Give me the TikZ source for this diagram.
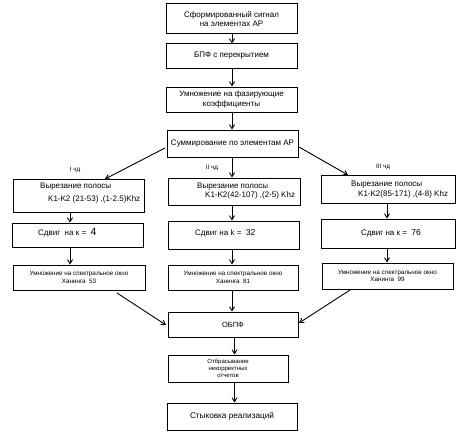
\documentclass[tikz,border=0pt]{standalone}
\usepackage{fontspec}
\setmainfont{Liberation Sans}
\usetikzlibrary{arrows.meta}
\begin{document}
\begin{tikzpicture}[x=1pt,y=-1pt,
  box/.style={draw,line width=1pt,inner sep=1pt,align=center},
  txt/.style={inner sep=0pt,align=left,anchor=west},
  arr/.style={line width=0.9pt,-{Straight Barb[length=4pt,width=5pt]}},
  fmain/.style={font=\fontsize{8}{9.5}\selectfont},
  fsmall/.style={font=\fontsize{6.3}{7.6}\selectfont}]
\useasboundingbox (0,0) rectangle (465,436);
% centre column
\node[box,fmain,minimum width=131pt,minimum height=30pt] (b1) at (231.5,19) {Сформированный сигнал\\на элементах АР};
\node[box,fmain,minimum width=131pt,minimum height=24pt] (b2) at (231.5,56) {БПФ с перекрытием};
\node[box,fmain,minimum width=131pt,minimum height=25pt] (b3) at (231.5,99.5) {Умножение на фазирующие\\коэффициенты};
\node[box,fmain,minimum width=131pt,minimum height=27pt] (b4) at (232.5,143.5) {Суммирование по элементам АР};
% left column
\node[box,minimum width=131pt,minimum height=33pt] (l1) at (78.5,195.5) {};
\node[txt,fmain,font=\fontsize{8}{13}\selectfont] (l1t) at (40,193.5) {Вырезание полосы\\\hspace*{8pt}K1-K2 (21-53) ,(1-2.5)Khz};
\node[box,minimum width=131pt,minimum height=24pt] (l2) at (77.5,235) {};
\node[txt,fmain] (l2t) at (38,233) {Сдвиг\ \ на к =\ \ {\fontsize{10.5}{12}\selectfont 4}};
\node[box,fsmall,minimum width=132pt,minimum height=25pt] (l3) at (79,277.5) {Умножение на спектральное окно\\Ханинга\ \ 53};
% middle column
\node[box,minimum width=132pt,minimum height=27pt] (m1) at (234,191.5) {};
\node[txt,fmain] (m1t) at (197,191) {Вырезание полосы\\\hspace*{8pt}K1-K2(42-107) ,(2-5) Khz};
\node[box,minimum width=131pt,minimum height=28pt] (m2) at (233.5,235) {};
\node[txt,fmain] (m2t) at (195,233) {Сдвиг на k =\ \ {\fontsize{8.6}{10}\selectfont 32}};
\node[box,fsmall,minimum width=130pt,minimum height=25pt] (m3) at (233,277.5) {Умножение на спектральное окно\\Ханинга\ \ 81};
% right column
\node[box,minimum width=134pt,minimum height=28pt] (r1) at (388,189) {};
\node[txt,fmain] (r1t) at (351,189.5) {Вырезание полосы\\\hspace*{7pt}K1-K2(85-171) ,(4-8) Khz};
\node[box,minimum width=134pt,minimum height=29pt] (r2) at (388,233.5) {};
\node[txt,fmain] (r2t) at (361,233) {Сдвиг на к =\ \ {\fontsize{8.6}{10}\selectfont 76}};
\node[box,fsmall,minimum width=131pt,minimum height=26pt] (r3) at (387.5,276) {Умножение на спектральное окно\\Ханинга\ \ 99};
% channel labels
\node[fsmall,inner sep=0pt] (c1) at (75,170) {I чд};
\node[fsmall,inner sep=0pt] (c2) at (212,168) {II чд};
\node[fsmall,inner sep=0pt] (c3) at (383,167) {III чд};
% bottom column
\node[box,font=\fontsize{7.5}{9}\selectfont,minimum width=130pt,minimum height=25pt] (o) at (233,324.5) {ОБПФ};
\node[box,font=\fontsize{6}{7.2}\selectfont,minimum width=120pt,minimum height=27pt] (d) at (228,368.5) {Отбрасывание\\некорректных\\отчетов};
\node[box,font=\fontsize{8.2}{10}\selectfont,minimum width=130pt,minimum height=27pt] (s) at (232,416.5) {Стыковка реализаций};
% x positions of vertical connectors
\coordinate (xc) at (232,0);
\coordinate (xl) at (70,0);
\coordinate (xr) at (387,0);
\coordinate (xb) at (234.5,0);
% connectors
\draw[arr] (xc |- b1.south) -- (xc |- b2.north);
\draw[arr] (xc |- b2.south) -- (xc |- b3.north);
\draw[arr] (xc |- b3.south) -- (xc |- b4.north);
\draw[arr] (xc |- b4.south) -- (xc |- m1.north);
\draw[arr] (xc |- m1.south) -- (xc |- m2.north);
\draw[arr] (xc |- m2.south) -- (xc |- m3.north);
\draw[arr] (xc |- m3.south) -- (xc |- o.north);
\draw[arr] (xl |- l1.south) -- (xl |- l2.north);
\draw[arr] (xl |- l2.south) -- (xl |- l3.north);
\draw[arr] (xr |- r1.south) -- (xr |- r2.north);
\draw[arr] (xr |- r2.south) -- (xr |- r3.north);
\draw[arr] (xb |- o.south) -- (xb |- d.north);
\draw[arr] (xb |- d.south) -- (xb |- s.north);
\coordinate (dl1) at (165,148);
\coordinate (dl2) at (105,179);
\coordinate (dr1) at (299,147);
\coordinate (dr2) at (348,175);
\coordinate (el1) at (117,293);
\coordinate (el2) at (166,325);
\coordinate (er1) at (350,290);
\coordinate (er2) at (299,323);
\draw[arr] (dl1) -- (dl2);
\draw[arr] (dr1) -- (dr2);
\draw[arr] (el1) -- (el2);
\draw[arr] (er1) -- (er2);
\end{tikzpicture}
\end{document}
